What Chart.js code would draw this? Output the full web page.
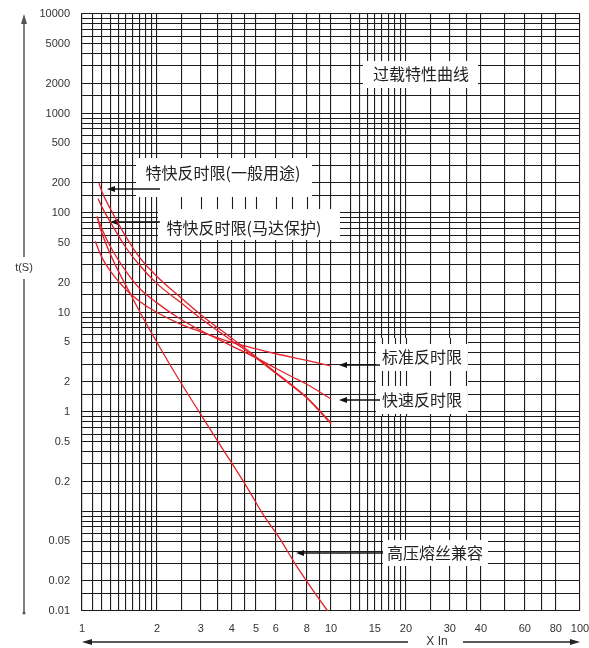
<!DOCTYPE html>
<html>
<head>
<meta charset="utf-8">
<script src="https://cdn.jsdelivr.net/npm/chart.js@4/dist/chart.umd.min.js"></script>
<style>
  html, body { margin: 0; padding: 0; background: #fff; }
  #wrap { width: 589px; height: 648px; }
</style>
</head>
<body>
<div id="wrap"><canvas id="c" width="589" height="648"></canvas></div>
<script>
// Overload characteristics: trip time t (s) against current multiple (x In)

// 特快反时限(一般用途)
const eiGeneralX = [1.17, 1.2, 1.3, 1.5, 1.7, 2, 2.5, 3, 4, 5, 6, 7, 8, 10];
const eiGeneralT = [200, 165, 110, 58, 36, 23, 14, 9.5, 5.5, 3.6, 2.5, 1.85, 1.4, 0.78];

// 特快反时限(马达保护)
const eiMotorX = [1.16, 1.2, 1.32, 1.5, 1.7, 2, 2.5, 3, 4, 5, 6, 7, 8, 10];
const eiMotorT = [140, 116, 76, 45, 30, 19.5, 12.5, 8.7, 5.2, 3.5, 2.45, 1.82, 1.38, 0.76];

// 快速反时限
const viX = [1.15, 1.2, 1.3, 1.5, 1.7, 2, 2.5, 3, 4, 5, 6, 7, 8, 10];
const viT = [92, 70, 46, 26, 17.5, 12.5, 8.5, 6.6, 4.6, 3.5, 2.75, 2.25, 1.9, 1.35];

// 标准反时限
const siX = [1.13, 1.2, 1.3, 1.5, 1.7, 2, 2.5, 3, 4, 5, 6, 8, 10];
const siT = [52, 36, 26, 17, 13, 10, 7.6, 6.4, 5.0, 4.3, 3.85, 3.3, 2.9];

// 高压熔丝兼容
const fuseX = [1.15, 1.18, 1.33, 1.52, 1.76, 2.06, 2.47, 2.98, 3.58, 4.6, 5.33, 6.24, 7.17, 8.4, 9.7];
const fuseT = [92, 72, 34, 17.6, 8.8, 4.4, 2.05, 0.97, 0.47, 0.175, 0.094, 0.053, 0.030, 0.0166, 0.01];

// Axis tick labels and grid positions
const xTickLabels = [1, 2, 3, 4, 5, 6, 8, 10, 15, 20, 30, 40, 60, 80, 100];
const xGridValues = [1, 1.1, 1.2, 1.3, 1.4, 1.5, 1.6, 1.7, 1.8, 1.9, 2, 2.5, 3, 3.5, 4, 4.5, 5, 6, 7, 8, 9,
                     10, 12, 13, 14, 15, 16, 17, 18, 19, 20, 25, 30, 35, 40, 50, 60, 70, 80, 100];
const yTickLabels = [0.01, 0.02, 0.05, 0.2, 0.5, 1, 2, 5, 10, 20, 50, 100, 200, 500, 1000, 2000, 5000, 10000];
const yDecades = [0.01, 0.1, 1, 10, 100, 1000];
const yGridMantissas = [1, 1.5, 2, 3, 4, 5, 6, 7, 8, 9];

const yGridValues = yDecades
  .flatMap(d => yGridMantissas.map(m => +(m * d).toPrecision(4)))
  .concat([10000]);

const toPoints = (xs, ts) => xs.map((x, i) => ({ x: x, y: ts[i] }));

const RED = '#e4222b';
const GRID = '#1c1c1c';
const CJK = '"Noto Sans CJK SC", "Noto Sans", sans-serif';
const LATIN = '"Liberation Sans", Arial, sans-serif';

function curve(label, xs, ts) {
  return {
    label: label,
    data: toPoints(xs, ts),
    borderColor: RED,
    borderWidth: 1.3,
    pointRadius: 0,
    fill: false,
    tension: 0.4,
    cubicInterpolationMode: 'monotone'
  };
}

function arrowLeft(ctx, x1, x2, y) {
  // line from x1 to tip x2 with a small filled head at x2
  ctx.beginPath();
  ctx.moveTo(x1, y);
  ctx.lineTo(x2 + 4, y);
  ctx.stroke();
  ctx.beginPath();
  ctx.moveTo(x2, y);
  ctx.lineTo(x2 + 8, y - 3);
  ctx.lineTo(x2 + 8, y + 3);
  ctx.closePath();
  ctx.fill();
}

const annotations = {
  id: 'annotations',
  beforeDatasetsDraw(chart) {
    const ctx = chart.ctx;
    const xs = chart.scales.x;
    ctx.save();

    // bands where only the vertical rulings show through
    const bands = [
      [160, 190, 312, 209],
      [376, 338, 468, 416]
    ];
    bands.forEach(([l, t, r, b]) => {
      ctx.fillStyle = '#fff';
      ctx.fillRect(l, t, r - l, b - t);
      ctx.strokeStyle = GRID;
      ctx.lineWidth = 1.1;
      xs.ticks.forEach(tk => {
        const px = Math.round(xs.getPixelForValue(tk.value)) + 0.5;
        if (px > l && px < r) {
          ctx.beginPath();
          ctx.moveTo(px, t);
          ctx.lineTo(px, b);
          ctx.stroke();
        }
      });
    });

    // white label boxes
    const boxes = [
      { text: '过载特性曲线', l: 363, t: 61, r: 478, b: 88, cx: 421, cy: 74 },
      { text: '特快反时限(一般用途)', l: 136, t: 158, r: 312, b: 197, cx: 223, cy: 173 },
      { text: '特快反时限(马达保护)', l: 158, t: 209, r: 340, b: 240, cx: 244, cy: 228 },
      { text: '标准反时限', l: 377, t: 344, r: 467, b: 371, cx: 422, cy: 357 },
      { text: '快速反时限', l: 377, t: 386, r: 467, b: 414, cx: 422, cy: 400 },
      { text: '高压熔丝兼容', l: 383, t: 540, r: 488, b: 566, cx: 435, cy: 553 }
    ];
    boxes.forEach(bx => {
      ctx.fillStyle = '#fff';
      ctx.fillRect(bx.l, bx.t, bx.r - bx.l, bx.b - bx.t);
      ctx.fillStyle = '#222';
      ctx.font = '16px ' + CJK;
      ctx.textAlign = 'center';
      ctx.textBaseline = 'middle';
      ctx.fillText(bx.text, bx.cx, bx.cy);
    });

    // leader arrows to each curve
    ctx.strokeStyle = '#111';
    ctx.fillStyle = '#111';
    ctx.lineWidth = 1.5;
    arrowLeft(ctx, 160, 107, 189);
    arrowLeft(ctx, 160, 110, 222);
    arrowLeft(ctx, 380, 339, 365);
    arrowLeft(ctx, 380, 339, 400);
    arrowLeft(ctx, 383, 296, 553);

    ctx.restore();
  },
  afterDraw(chart) {
    const ctx = chart.ctx;
    ctx.save();
    ctx.strokeStyle = '#555';
    ctx.fillStyle = '#555';
    ctx.lineWidth = 1.5;

    // vertical axis arrow with its title
    ctx.beginPath();
    ctx.moveTo(24, 22);
    ctx.lineTo(24, 257);
    ctx.moveTo(24, 279);
    ctx.lineTo(24, 612);
    ctx.stroke();
    ctx.beginPath();
    ctx.moveTo(24, 14);
    ctx.lineTo(21, 24);
    ctx.lineTo(27, 24);
    ctx.closePath();
    ctx.fill();
    ctx.beginPath();
    ctx.arc(24, 613, 1.5, 0, Math.PI * 2);
    ctx.fill();
    ctx.fillStyle = '#333';
    ctx.font = '11px ' + LATIN;
    ctx.textAlign = 'center';
    ctx.textBaseline = 'middle';
    ctx.fillText('t(S)', 24, 268);

    // horizontal axis arrow with its title
    ctx.strokeStyle = '#222';
    ctx.fillStyle = '#222';
    ctx.beginPath();
    ctx.moveTo(90, 642);
    ctx.lineTo(408, 642);
    ctx.moveTo(463, 642);
    ctx.lineTo(572, 642);
    ctx.stroke();
    ctx.beginPath();
    ctx.moveTo(82, 642);
    ctx.lineTo(92, 639);
    ctx.lineTo(92, 645);
    ctx.closePath();
    ctx.fill();
    ctx.beginPath();
    ctx.moveTo(580, 642);
    ctx.lineTo(570, 639);
    ctx.lineTo(570, 645);
    ctx.closePath();
    ctx.fill();
    ctx.fillStyle = '#333';
    ctx.font = '12px ' + LATIN;
    ctx.fillText('X In', 437, 642);
    ctx.restore();
  }
};

new Chart(document.getElementById('c'), {
  type: 'line',
  data: {
    datasets: [
      curve('特快反时限(一般用途)', eiGeneralX, eiGeneralT),
      curve('特快反时限(马达保护)', eiMotorX, eiMotorT),
      curve('快速反时限', viX, viT),
      curve('标准反时限', siX, siT),
      curve('高压熔丝兼容', fuseX, fuseT)
    ]
  },
  options: {
    responsive: false,
    animation: false,
    devicePixelRatio: 1,
    layout: { autoPadding: false, padding: { left: 0, right: 9, top: 14, bottom: 0 } },
    plugins: { legend: { display: false }, tooltip: { enabled: false } },
    scales: {
      x: {
        type: 'logarithmic',
        min: 1,
        max: 100,
        afterBuildTicks: axis => { axis.ticks = xGridValues.map(v => ({ value: v })); },
        afterFit: axis => { axis.height = 37; axis.paddingLeft = 0; axis.paddingRight = 0; },
        grid: { color: GRID, lineWidth: 1.1, drawTicks: false },
        border: { color: GRID, width: 1.1 },
        ticks: {
          autoSkip: false,
          maxRotation: 0,
          padding: 11,
          color: '#333',
          font: { family: LATIN, size: 11 },
          callback: v => (xTickLabels.includes(v) ? String(v) : '')
        }
      },
      y: {
        type: 'logarithmic',
        min: 0.01,
        max: 10000,
        afterBuildTicks: axis => { axis.ticks = yGridValues.map(v => ({ value: v })); },
        afterFit: axis => { axis.width = 82; axis.paddingTop = 0; axis.paddingBottom = 0; },
        grid: { color: GRID, lineWidth: 1.1, drawTicks: false },
        border: { color: GRID, width: 1.1 },
        ticks: {
          autoSkip: false,
          padding: 12,
          color: '#333',
          font: { family: LATIN, size: 11 },
          callback: v => (yTickLabels.includes(v) ? String(v) : '')
        }
      }
    }
  },
  plugins: [annotations]
});
</script>
</body>
</html>
